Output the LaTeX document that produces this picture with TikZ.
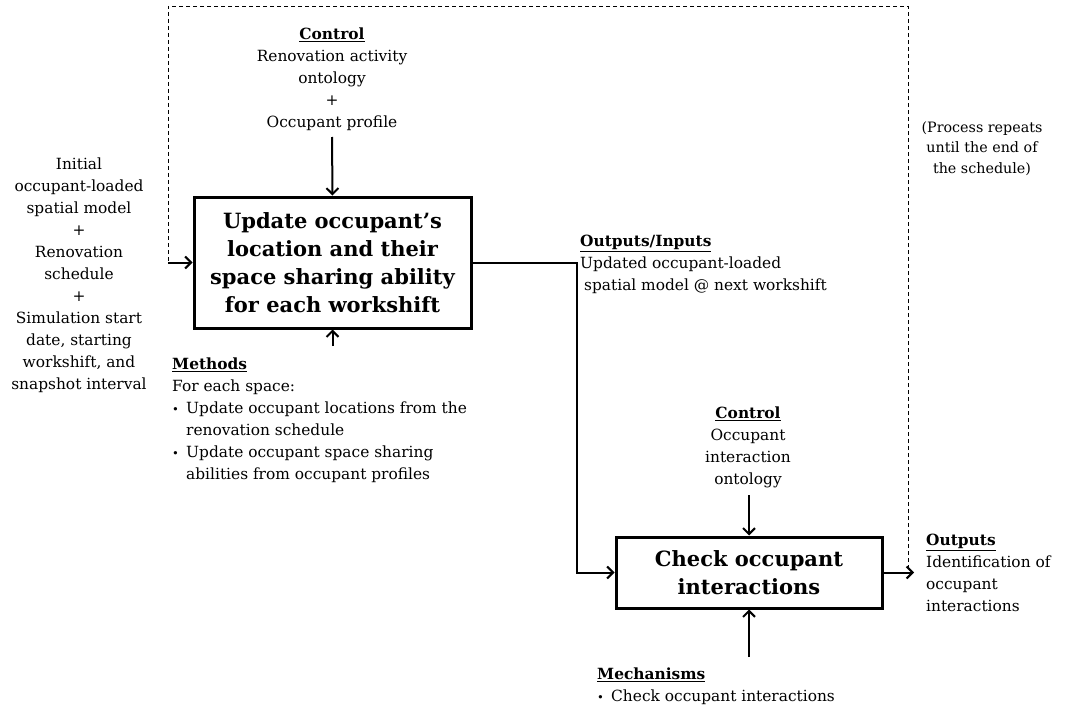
\documentclass[tikz,border=0pt]{standalone}
\usepackage{fontspec}
\setmainfont{DejaVu Serif}
\usetikzlibrary{arrows.meta}
\newcommand{\hd}[1]{\underline{\textbf{#1}}}
\newcommand{\bul}{\makebox[14pt][l]{\raisebox{0.3pt}{\fontsize{11.5}{11.5}\selectfont•}}}
\newcommand{\cnt}{\hspace*{14pt}}
\begin{document}
\begin{tikzpicture}[x=1pt,y=-1pt,
  proc/.style={draw, line width=3pt, inner sep=0pt, align=center,
    font=\fontsize{21}{28}\selectfont\bfseries},
  lbl/.style={inner sep=0pt, font=\fontsize{15.4}{22}\selectfont},
  arr/.style={line width=2pt, -{Straight Barb[length=6pt,width=12pt,line width=2pt]}},
  loop/.style={line width=0.9pt, dash pattern=on 4pt off 3pt}]
\useasboundingbox (0,0) rectangle (1076,709);

% activity boxes
\node[proc, minimum width=277pt, minimum height=131pt] (boxA) at (332.5,262.5)
  {Update occupant’s\\location and their\\space sharing ability\\for each workshift};
\node[proc, minimum width=266pt, minimum height=71pt] (boxB) at (749,572.5)
  {Check occupant\\interactions};

% labels
\node[lbl, align=center, anchor=north] (ctrlA) at (332,27.5)
  {\hd{Control}\\Renovation activity\\ontology\\+\\Occupant profile};
\node[lbl, align=center, anchor=north] (inA) at (79,158)
  {Initial\\occupant-loaded\\spatial model\\+\\Renovation\\schedule\\+\\Simulation start\\date, starting\\workshift, and\\snapshot interval};
\node[lbl, align=left, anchor=north west] (methA) at (172,358)
  {\hd{Methods}\\For each space:\\\bul Update occupant locations from the\\\cnt renovation schedule\\\bul Update occupant space sharing\\\cnt abilities from occupant profiles};
\node[lbl, align=left, anchor=north west] (outA) at (580,235)
  {\hd{Outputs/Inputs}\\Updated occupant-loaded\\\hspace*{4pt}spatial model @ next workshift};
\node[lbl, align=center, anchor=north, font=\fontsize{14.3}{20.5}\selectfont] (rep) at (982,121)
  {(Process repeats\\until the end of\\the schedule)};
\node[lbl, align=center, anchor=north] (ctrlB) at (748,407)
  {\hd{Control}\\Occupant\\interaction\\ontology};
\node[lbl, align=left, anchor=north west] (outB) at (926,534)
  {\hd{Outputs}\\Identification of\\occupant\\interactions};
\node[lbl, align=left, anchor=north west] (mechB) at (597,668)
  {\hd{Mechanisms}\\\bul Check occupant interactions};

% connector ends
\coordinate (mA) at (332.5,346);
\coordinate (mB) at (749,657);
\coordinate (cB) at (749,495);
\coordinate (loopL) at (168,262.5);
\coordinate (loopTL) at (168,6);
\coordinate (loopTR) at (908,6);
\coordinate (loopBR) at (908,569);
\coordinate (outTip) at (914,572.5);

% connectors
\draw[arr] (ctrlA.south |- 0,137) -- (boxA.north);
\draw[arr] (mA) -- (boxA.south);
\draw[arr] (loopL) -- (boxA.west);
\draw[arr] (boxA.east) -- ++(104,0) |- (boxB.west);
\draw[arr] (cB) -- (boxB.north);
\draw[arr] (mB) -- (boxB.south);
\draw[arr] (boxB.east) -- (outTip);

% repetition loop
\draw[loop] (loopBR) -- (loopTR) -- (loopTL) -- (loopL);
\end{tikzpicture}
\end{document}
